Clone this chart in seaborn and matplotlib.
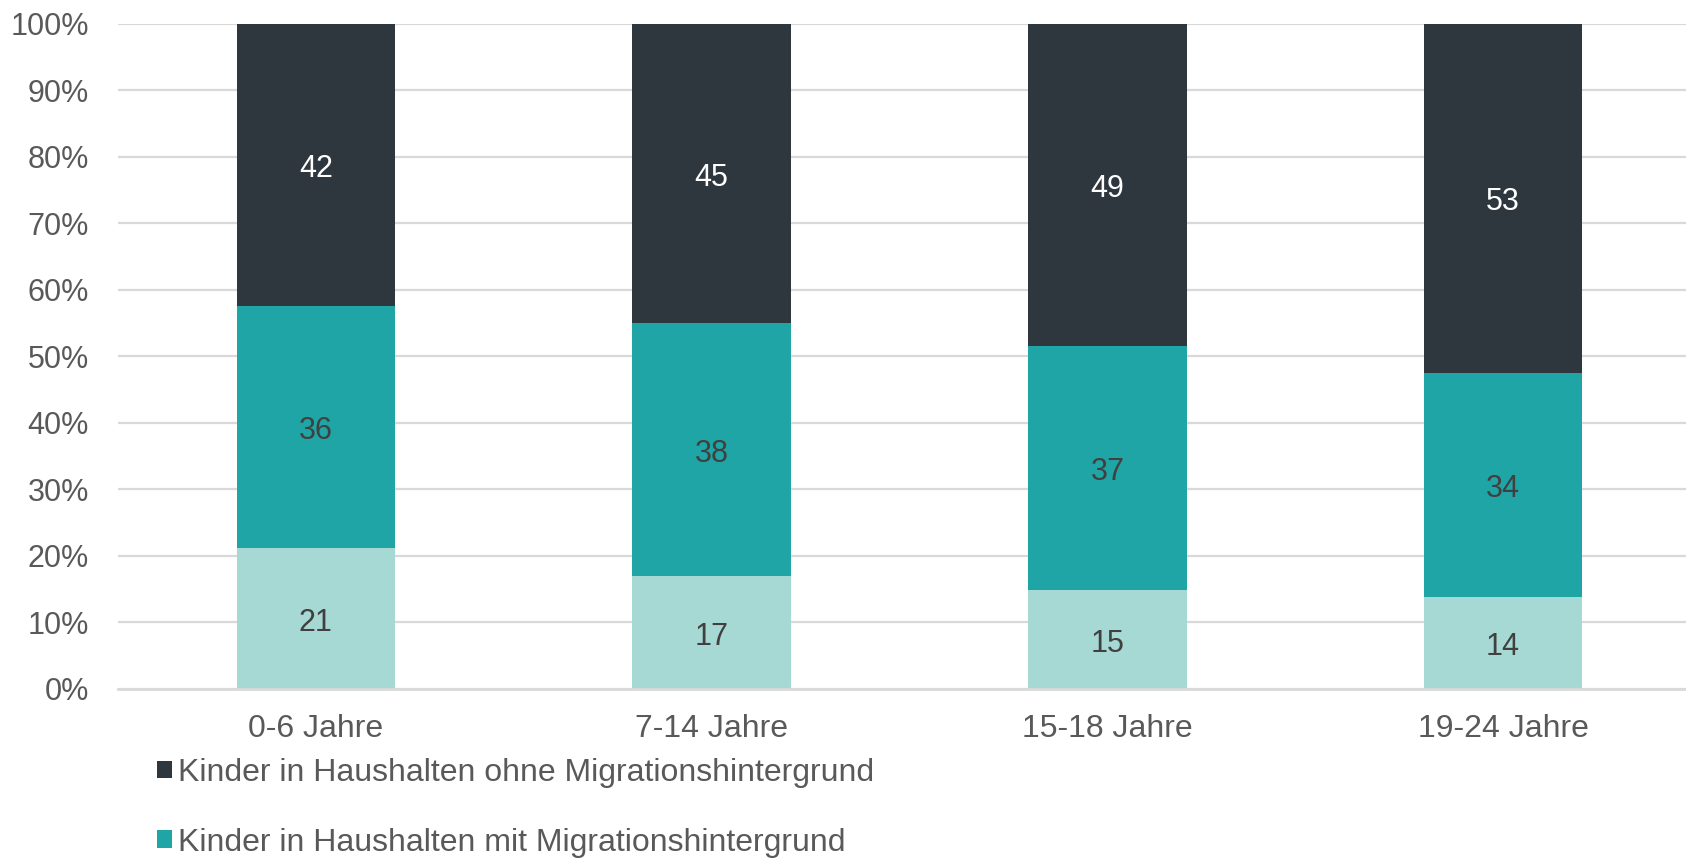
import numpy as np
import pandas as pd
import matplotlib
matplotlib.use("Agg")
import matplotlib.pyplot as plt
import seaborn as sns
from matplotlib.patches import Patch
from matplotlib.ticker import PercentFormatter

categories = ["0-6 Jahre", "7-14 Jahre", "15-18 Jahre", "19-24 Jahre"]
ohne_mig = [42, 45, 49, 53]
mit_mig = [36, 38, 37, 34]
third_group = [21, 17, 15, 14]
legend_labels = ["Kinder in Haushalten ohne Migrationshintergrund",
                 "Kinder in Haushalten mit Migrationshintergrund"]

c_dark = "#2F373E"
c_teal = "#1FA5A6"
c_light = "#A6D8D4"
c_text = "#595959"
c_label = "#404040"
c_grid = "#D9D9D9"

sns.set_theme(style="white")
plt.rcParams["font.family"] = ["Liberation Sans", "DejaVu Sans"]

o = np.array(ohne_mig, float)
m = np.array(mit_mig, float)
t = np.array(third_group, float)
tot = o + m + t
p_low = t / tot * 100
p_mid = (t + m) / tot * 100
p_top = np.full_like(tot, 100.0)

df = pd.DataFrame({"cat": categories, "low": p_low, "mid": p_mid, "top": p_top})

fig = plt.figure(figsize=(16.86, 8.59), dpi=100)
ax = fig.add_axes([118 / 1686, 1 - 689 / 859, 1583 / 1686, (689 - 23.7) / 859])

for col, colr in [("top", c_dark), ("mid", c_teal), ("low", c_light)]:
    sns.barplot(data=df, x="cat", y=col, color=colr, width=0.4, saturation=1,
                errorbar=None, linewidth=0, ax=ax)

ax.set_xlim(-0.5, 3.5)
ax.set_ylim(0, 100)
ax.set_yticks(np.arange(0, 101, 10))
ax.yaxis.set_major_formatter(PercentFormatter(decimals=0))
ax.yaxis.grid(True, color=c_grid, lw=1.6)
ax.set_axisbelow(True)
for s in ["top", "right", "left"]:
    ax.spines[s].set_visible(False)
ax.spines["bottom"].set_color(c_grid)
ax.spines["bottom"].set_linewidth(2)
ax.set_xlabel("")
ax.set_ylabel("")
ax.tick_params(axis="y", length=0, labelsize=22, labelcolor=c_text, pad=21)
ax.tick_params(axis="x", length=0, labelsize=23, labelcolor=c_text, pad=18)

def lab(x, y, s, c):
    ax.annotate(s, (x, y), xytext=(0, -3), textcoords="offset points",
                ha="center", va="center", fontsize=22, color=c)

for i in range(len(categories)):
    lab(i, p_low[i] / 2, f"{int(t[i])}", c_label)
    lab(i, (p_low[i] + p_mid[i]) / 2, f"{int(m[i])}", c_label)
    lab(i, (p_mid[i] + 100) / 2, f"{int(o[i])}", "white")

handles = [Patch(facecolor=c_dark, edgecolor="none"), Patch(facecolor=c_teal, edgecolor="none")]
fig.legend(handles, legend_labels, loc="upper left",
           bbox_to_anchor=(157 / 1686, 1 - 758 / 859), frameon=False,
           borderpad=0, borderaxespad=0, fontsize=23, labelcolor=c_text,
           handlelength=0.47, handleheight=0.47, handletextpad=0.2, labelspacing=1.24)

fig.savefig("out.png", dpi=100)
